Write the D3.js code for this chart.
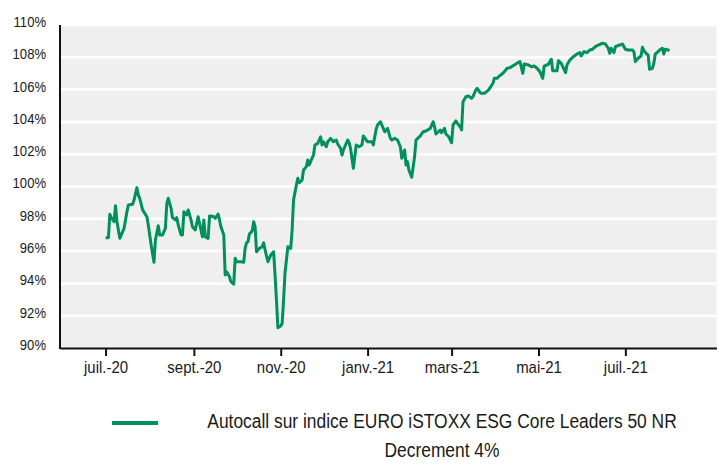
<!DOCTYPE html>
<html>
<head>
<meta charset="utf-8">
<script src="https://cdn.jsdelivr.net/npm/d3@7"></script>
<style>
  body { margin: 0; background: #fff; }
  svg { display: block; font-family: 'Liberation Sans', Arial, sans-serif; }
</style>
</head>
<body>
<div id="chart"></div>
<script>
const dates = [
  '2020-07-01','2020-07-03','2020-07-04','2020-07-05','2020-07-07','2020-07-08','2020-07-09','2020-07-11',
  '2020-07-14','2020-07-16','2020-07-17','2020-07-20','2020-07-21','2020-07-23','2020-07-24','2020-07-25',
  '2020-07-27','2020-07-30','2020-07-31','2020-08-02','2020-08-04','2020-08-05','2020-08-07','2020-08-08',
  '2020-08-10','2020-08-12','2020-08-13','2020-08-14','2020-08-16','2020-08-17','2020-08-19','2020-08-20',
  '2020-08-21','2020-08-23','2020-08-24','2020-08-25','2020-08-27','2020-08-28','2020-08-30','2020-08-31',
  '2020-09-02','2020-09-04','2020-09-06','2020-09-07','2020-09-08','2020-09-09','2020-09-11','2020-09-12',
  '2020-09-13','2020-09-15','2020-09-16','2020-09-18','2020-09-19','2020-09-20','2020-09-22','2020-09-23',
  '2020-09-24','2020-09-26','2020-09-27','2020-09-29','2020-09-30','2020-10-01','2020-10-04','2020-10-06',
  '2020-10-07','2020-10-08','2020-10-09','2020-10-10','2020-10-11','2020-10-12','2020-10-13','2020-10-14',
  '2020-10-15','2020-10-17','2020-10-19','2020-10-20','2020-10-21','2020-10-23','2020-10-24','2020-10-25',
  '2020-10-27','2020-10-28','2020-10-29','2020-10-30','2020-11-01','2020-11-02','2020-11-03','2020-11-04',
  '2020-11-06','2020-11-08','2020-11-09','2020-11-10','2020-11-12','2020-11-13','2020-11-14','2020-11-16',
  '2020-11-17','2020-11-19','2020-11-20','2020-11-21','2020-11-23','2020-11-24','2020-11-25','2020-11-27',
  '2020-11-29','2020-11-30','2020-12-01','2020-12-03','2020-12-04','2020-12-06','2020-12-08','2020-12-10',
  '2020-12-11','2020-12-13','2020-12-14','2020-12-15','2020-12-18','2020-12-19','2020-12-20','2020-12-22',
  '2020-12-23','2020-12-24','2020-12-26','2020-12-28','2020-12-29','2020-12-31','2021-01-01','2021-01-04',
  '2021-01-05','2021-01-07','2021-01-08','2021-01-10','2021-01-12','2021-01-13','2021-01-15','2021-01-17',
  '2021-01-18','2021-01-20','2021-01-22','2021-01-24','2021-01-25','2021-01-27','2021-01-28','2021-01-29',
  '2021-01-30','2021-02-01','2021-02-03','2021-02-04','2021-02-07','2021-02-09','2021-02-11','2021-02-14',
  '2021-02-16','2021-02-17','2021-02-18','2021-02-21','2021-02-22','2021-02-24','2021-02-25','2021-02-27',
  '2021-03-01','2021-03-02','2021-03-04','2021-03-05','2021-03-07','2021-03-08','2021-03-09','2021-03-11',
  '2021-03-13','2021-03-15','2021-03-16','2021-03-18','2021-03-19','2021-03-21','2021-03-22','2021-03-24',
  '2021-03-27','2021-03-30','2021-03-31','2021-04-02','2021-04-03','2021-04-06','2021-04-07','2021-04-09',
  '2021-04-11','2021-04-14','2021-04-17','2021-04-18','2021-04-20','2021-04-21','2021-04-24','2021-04-26',
  '2021-04-28','2021-04-30','2021-05-02','2021-05-03','2021-05-04','2021-05-05','2021-05-08','2021-05-10',
  '2021-05-11','2021-05-14','2021-05-15','2021-05-17','2021-05-20','2021-05-21','2021-05-23','2021-05-25',
  '2021-05-28','2021-05-30','2021-05-31','2021-06-02','2021-06-04','2021-06-06','2021-06-08','2021-06-10',
  '2021-06-12','2021-06-15','2021-06-17','2021-06-19','2021-06-20','2021-06-21','2021-06-23','2021-06-24',
  '2021-06-27','2021-06-29','2021-07-01','2021-07-03','2021-07-06','2021-07-07','2021-07-08','2021-07-10',
  '2021-07-12','2021-07-13','2021-07-14','2021-07-16','2021-07-17','2021-07-18','2021-07-20','2021-07-21',
  '2021-07-22','2021-07-24','2021-07-25','2021-07-27','2021-07-28','2021-07-29','2021-07-31','2021-08-01'
];

const values = [
  96.83, 96.83, 98.28, 98.07, 97.82, 98.81, 97.82, 96.79,
  97.41, 98.44, 98.85, 98.90, 99.16, 99.93, 99.47, 99.27,
  98.55, 98.13, 97.62, 96.38, 95.31, 96.69, 97.57, 97.00,
  97.00, 97.41, 98.96, 99.27, 98.65, 98.07, 97.93, 98.07,
  97.62, 97.00, 97.00, 98.44, 98.24, 98.55, 97.93, 97.51,
  97.31, 98.13, 97.31, 96.89, 97.93, 96.89, 96.79, 98.17,
  98.17, 98.13, 98.03, 98.30, 97.93, 97.51, 97.00, 94.52,
  94.72, 94.41, 94.11, 93.96, 95.55, 95.34, 95.34, 95.31,
  96.17, 96.52, 96.58, 97.06, 97.14, 97.26, 97.82, 97.51,
  95.96, 96.17, 96.27, 96.52, 96.07, 95.34, 95.55, 95.76,
  95.96, 94.52, 92.97, 91.26, 91.36, 91.53, 92.97, 94.63,
  96.27, 96.17, 97.31, 99.16, 100.09, 100.51, 100.24, 100.40,
  101.02, 101.23, 101.64, 101.33, 101.75, 101.95, 102.57, 102.67,
  103.08, 102.57, 102.77, 102.46, 102.77, 102.98, 102.77, 102.88,
  102.63, 102.37, 101.95, 102.26, 102.88, 102.71, 102.37, 101.13,
  101.85, 102.57, 102.46, 102.57, 103.13, 102.88, 102.77, 102.77,
  102.57, 103.54, 103.81, 104.01, 103.60, 103.39, 103.60, 102.98,
  102.88, 102.98, 102.88, 102.46, 101.75, 102.26, 101.33, 101.54,
  101.02, 100.57, 101.85, 102.88, 103.13, 103.39, 103.44, 103.60,
  104.01, 103.70, 103.25, 103.50, 103.33, 103.60, 103.25, 103.08,
  102.71, 103.81, 104.06, 103.91, 103.70, 103.50, 105.25, 105.56,
  105.60, 105.46, 105.56, 105.98, 106.08, 105.81, 105.77, 105.77,
  105.98, 106.39, 106.70, 106.70, 106.80, 107.01, 107.11, 107.32,
  107.36, 107.52, 107.69, 107.73, 107.01, 107.59, 107.52, 107.42,
  107.46, 107.32, 107.11, 106.90, 106.70, 107.46, 107.57, 107.88,
  107.17, 107.17, 107.79, 107.63, 107.05, 107.52, 107.83, 108.00,
  108.20, 108.29, 108.08, 108.35, 108.29, 108.45, 108.50, 108.66,
  108.76, 108.87, 108.82, 108.56, 108.25, 108.56, 108.29, 108.66,
  108.76, 108.82, 108.50, 108.45, 108.45, 108.35, 107.73, 107.94,
  108.08, 108.62, 108.41, 108.20, 108.14, 107.26, 107.32, 107.63,
  108.20, 108.35, 108.45, 108.56, 108.20, 108.50, 108.45, 108.41
];

const yTicks = [90, 92, 94, 96, 98, 100, 102, 104, 106, 108, 110];
const xTicks = ['2020-07-01','2020-09-01','2020-11-01','2021-01-01','2021-03-01','2021-05-01','2021-07-01'];
const monthNames = ['janv.','févr.','mars','avr.','mai','juin','juil.','août','sept.','oct.','nov.','déc.'];
const seriesName = ['Autocall sur indice EURO iSTOXX ESG Core Leaders 50 NR', 'Decrement 4%'];

const width = 723;
const height = 466;
const green = '#00905a';

const parse = d3.timeParse('%Y-%m-%d');
const data = dates.map((d, i) => ({ date: parse(d), value: values[i] }));

// squeeze text horizontally, the source font is narrow
const condense = (sel, k) => sel.each(function() {
  const w = this.getComputedTextLength();
  d3.select(this)
    .attr('textLength', w * k)
    .attr('lengthAdjust', 'spacingAndGlyphs');
});

const svg = d3.select('#chart')
  .append('svg')
  .attr('width', width)
  .attr('height', height);

const x = d3.scaleTime()
  .domain([new Date(2020, 4, 30), new Date(2021, 8, 3)])
  .range([60, 716.5]);
const y = d3.scaleLinear()
  .domain([90, 110])
  .range([348, 25]);

// plot background
svg.append('rect')
  .attr('x', x.range()[0])
  .attr('y', y(110))
  .attr('width', x.range()[1] - x.range()[0])
  .attr('height', y(90) - y(110))
  .attr('fill', '#efefef');

// grid lines
svg.append('g')
  .selectAll('line')
  .data(yTicks.filter(d => d > 90))
  .join('line')
  .attr('x1', x.range()[0])
  .attr('x2', x.range()[1])
  .attr('y1', d => y(d))
  .attr('y2', d => y(d))
  .attr('stroke', '#fff')
  .attr('stroke-width', 2.5);

// y labels
svg.append('g')
  .selectAll('text')
  .data(yTicks)
  .join('text')
  .attr('x', 46)
  .attr('y', d => y(d) - 2)
  .attr('text-anchor', 'end')
  .attr('dominant-baseline', 'middle')
  .attr('font-size', 15)
  .attr('fill', '#1a1a1a')
  .text(d => `${d}%`)
  .call(condense, 0.87);

// line
const line = d3.line()
  .x(d => x(d.date))
  .y(d => y(d.value));

svg.append('path')
  .datum(data)
  .attr('d', line)
  .attr('fill', 'none')
  .attr('stroke', green)
  .attr('stroke-width', 3)
  .attr('stroke-linejoin', 'round');

// axes
const xAxis = d3.axisBottom(x)
  .tickValues(xTicks.map(parse))
  .tickSizeInner(8)
  .tickSizeOuter(0)
  .tickFormat(d => `${monthNames[d.getMonth()]}-${String(d.getFullYear()).slice(2)}`);

const gx = svg.append('g')
  .attr('transform', `translate(0,${y(90)})`)
  .call(xAxis);
gx.select('.domain')
  .attr('stroke', '#111')
  .attr('stroke-width', 2);
gx.selectAll('.tick line')
  .attr('stroke', '#111')
  .attr('stroke-width', 2);
gx.selectAll('.tick text')
  .attr('font-family', "'Liberation Sans', Arial, sans-serif")
  .attr('font-size', 17)
  .attr('fill', '#1a1a1a')
  .attr('y', 12)
  .attr('dy', '0.75em')
  .call(condense, 0.88);

svg.append('line')
  .attr('x1', x.range()[0])
  .attr('x2', x.range()[0])
  .attr('y1', y(110))
  .attr('y2', y(90) + 1)
  .attr('stroke', '#111')
  .attr('stroke-width', 2);

// legend
svg.append('line')
  .attr('x1', 112)
  .attr('x2', 158)
  .attr('y1', 423)
  .attr('y2', 423)
  .attr('stroke', green)
  .attr('stroke-width', 4);

svg.append('g')
  .selectAll('g')
  .data(seriesName)
  .join('g')
  .attr('transform', (d, i) => `translate(442,${423 + i * 29}) scale(0.87,1)`)
  .append('text')
  .attr('text-anchor', 'middle')
  .attr('dominant-baseline', 'middle')
  .attr('font-size', 20)
  .attr('fill', '#1a1a1a')
  .text(d => d);
</script>
</body>
</html>
